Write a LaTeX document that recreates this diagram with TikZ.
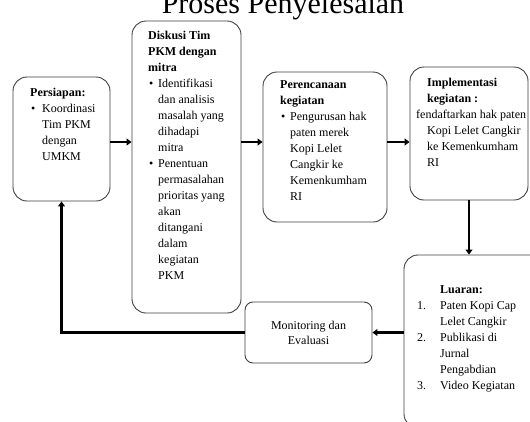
\documentclass[tikz,border=0pt]{standalone}
\usepackage{fontspec}
\setmainfont{Liberation Serif}
\usetikzlibrary{arrows.meta}
\begin{document}
\begin{tikzpicture}[x=1pt,y=-1pt,
  box/.style={draw=black!75, line width=0.9pt, rounded corners=14pt, inner sep=0pt},
  txt/.style={anchor=north west, inner sep=0pt, align=left, font=\fontsize{12}{16}\selectfont},
  flow/.style={line width=2.4pt, -{Triangle[length=5pt,width=7pt]}}]
\clip (0,0) rectangle (530,421);
\fill[white] (0,0) rectangle (530,421);
% title
\node (title) [anchor=base, inner sep=0pt, font=\fontsize{30}{30}\selectfont] at (283,13) {Proses Penyelesaian};
% boxes
\node[box, minimum width=97pt, minimum height=124pt] (b1) at (61.5,139) {};
\node[box, minimum width=109pt, minimum height=292pt] (b2) at (186.5,167) {};
\node[box, minimum width=124pt, minimum height=150pt] (b3) at (325,147) {};
\node[box, minimum width=118pt, minimum height=133pt] (b4) at (469,133.5) {};
\node[box, minimum width=141pt, minimum height=173pt] (b5) at (474.5,341.5) {};
\node[box, rounded corners=8pt, minimum width=127pt, minimum height=61pt] (b6) at (308.5,332.5) {};
% texts
\node[txt] (t1) at (30,88) {\textbf{Persiapan:}\\
\makebox[12pt][l]{\hspace{1pt}\textbullet}Koordinasi\\
\hspace*{12pt}Tim PKM\\
\hspace*{12pt}dengan\\
\hspace*{12pt}UMKM};
\node[txt] (t2) at (148,31) {\textbf{Diskusi Tim}\\
\textbf{PKM dengan}\\
\textbf{mitra}\\
\makebox[10pt][l]{\hspace{1pt}\textbullet}Identifikasi\\
\hspace*{10pt}dan analisis\\
\hspace*{10pt}masalah yang\\
\hspace*{10pt}dihadapi\\
\hspace*{10pt}mitra\\
\makebox[10pt][l]{\hspace{1pt}\textbullet}Penentuan\\
\hspace*{10pt}permasalahan\\
\hspace*{10pt}prioritas yang\\
\hspace*{10pt}akan\\
\hspace*{10pt}ditangani\\
\hspace*{10pt}dalam\\
\hspace*{10pt}kegiatan\\
\hspace*{10pt}PKM};
\node[txt] (t3) at (280,80) {\textbf{Perencanaan}\\
\textbf{kegiatan}\\
\makebox[10pt][l]{\hspace{1pt}\textbullet}Pengurusan hak\\
\hspace*{10pt}paten merek\\
\hspace*{10pt}Kopi Lelet\\
\hspace*{10pt}Cangkir ke\\
\hspace*{10pt}Kemenkumham\\
\hspace*{10pt}RI};
\node[txt] (t4) at (416,78) {\hspace*{11pt}\textbf{Implementasi}\\
\hspace*{11pt}\textbf{kegiatan :}\\
fendaftarkan hak paten\\
\hspace*{11pt}Kopi Lelet Cangkir\\
\hspace*{11pt}ke Kemenkumham\\
\hspace*{11pt}RI};
\node[txt] (t5) at (417,285) {\hspace*{23pt}\textbf{Luaran:}\\
\makebox[23pt][l]{1.}Paten Kopi Cap\\
\hspace*{23pt}Lelet Cangkir\\
\makebox[23pt][l]{2.}Publikasi di\\
\hspace*{23pt}Jurnal\\
\hspace*{23pt}Pengabdian\\
\makebox[23pt][l]{3.}Video Kegiatan};
\node[inner sep=0pt, align=center, font=\fontsize{12}{15}\selectfont] (t6) at (b6) {Monitoring dan\\Evaluasi};
% connectors
\coordinate (row) at (0,142);
\draw[flow] (b1.east |- row) -- (b2.west |- row);
\draw[flow] (b2.east |- row) -- (b3.west |- row);
\draw[flow] (b3.east |- row) -- (b4.west |- row);
\draw[flow] (b4.south) -- (b4.south |- b5.north);
\draw[flow] (b5.west |- b6.east) -- (b6.east);
\draw[flow] (b6.west) -| (b1.south);
\end{tikzpicture}
\end{document}
